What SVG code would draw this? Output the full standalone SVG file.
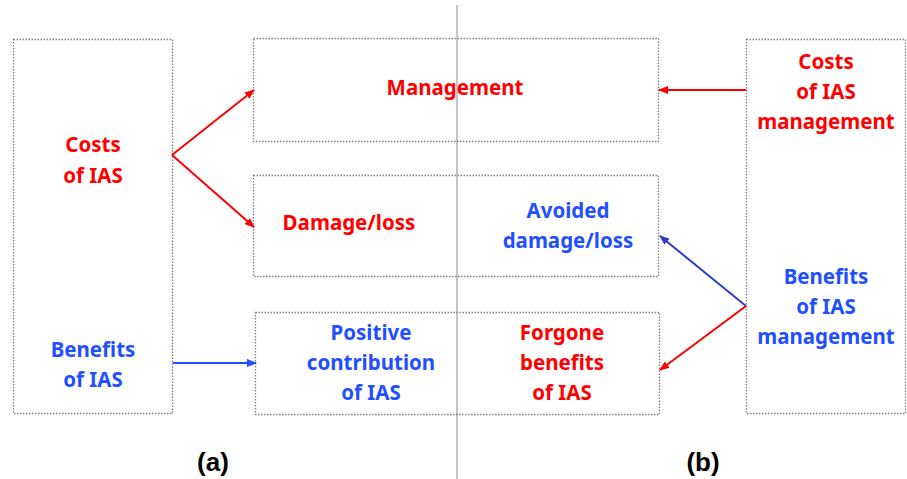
<svg xmlns="http://www.w3.org/2000/svg" width="907" height="479" viewBox="0 0 907 479">
<style>
.box{fill:none;stroke:#808080;stroke-width:1.3;stroke-dasharray:1.5 1.5}
.t{font-family:"Noto Sans","Open Sans","Liberation Sans",sans-serif;font-weight:700;font-size:20.5px;text-anchor:middle}
.r{fill:#ff0000}
.b{fill:#1f4fff}
.lab{font-family:"Liberation Sans",Arial,sans-serif;font-weight:bold;font-size:26px;text-anchor:middle;fill:#000}
</style>
<defs>
<marker id="ar" markerWidth="10" markerHeight="8" refX="9" refY="4" orient="auto" markerUnits="userSpaceOnUse"><path d="M0,0 L10,4 L0,8 Z" fill="#ff0000"/></marker>
<marker id="ab" markerWidth="10" markerHeight="8" refX="9" refY="4" orient="auto" markerUnits="userSpaceOnUse"><path d="M0,0 L10,4 L0,8 Z" fill="#1f4fff"/></marker>
<marker id="ab2" markerWidth="10" markerHeight="8" refX="9" refY="4" orient="auto" markerUnits="userSpaceOnUse"><path d="M0,0 L10,4 L0,8 Z" fill="#2b3fbf"/></marker>
</defs>
<line x1="457" y1="5" x2="457" y2="479" stroke="#a6a6a6" stroke-width="1.3"/>
<g id="left-a">
<rect class="box" x="13.5" y="39.5" width="159" height="374"/>
<text class="t r" x="93" y="152">Costs</text>
<text class="t r" x="93" y="183">of IAS</text>
<text class="t b" x="93" y="357">Benefits</text>
<text class="t b" x="93" y="387">of IAS</text>
</g>
<g id="management">
<rect class="box" x="253.5" y="38.5" width="405" height="103"/>
<text class="t r" x="455" y="95">Management</text>
</g>
<g id="damage">
<rect class="box" x="253.5" y="175.5" width="405" height="101"/>
<text class="t r" x="349" y="230">Damage/loss</text>
<text class="t b" x="568" y="218">Avoided</text>
<text class="t b" x="568" y="248">damage/loss</text>
</g>
<g id="contribution">
<rect class="box" x="255.5" y="312.5" width="404" height="102"/>
<text class="t b" x="371" y="340">Positive</text>
<text class="t b" x="371" y="370">contribution</text>
<text class="t b" x="371" y="400">of IAS</text>
<text class="t r" x="562" y="340">Forgone</text>
<text class="t r" x="562" y="370">benefits</text>
<text class="t r" x="562" y="400">of IAS</text>
</g>
<g id="right-b">
<rect class="box" x="746.5" y="39.5" width="159" height="374"/>
<text class="t r" x="826" y="69">Costs</text>
<text class="t r" x="826" y="99">of IAS</text>
<text class="t r" x="826" y="129">management</text>
<text class="t b" x="826" y="284">Benefits</text>
<text class="t b" x="826" y="314">of IAS</text>
<text class="t b" x="826" y="344">management</text>
</g>
<g id="connectors" fill="none" stroke-width="2">
<line x1="172" y1="155" x2="254" y2="90" stroke="#ff0000" marker-end="url(#ar)"/>
<line x1="172" y1="155" x2="254" y2="227" stroke="#ff0000" marker-end="url(#ar)"/>
<line x1="173" y1="363" x2="256" y2="363" stroke="#1f4fff" marker-end="url(#ab)"/>
<line x1="746" y1="90" x2="659" y2="90" stroke="#ff0000" marker-end="url(#ar)"/>
<line x1="746" y1="306" x2="660" y2="236" stroke="#2b3fbf" marker-end="url(#ab2)"/>
<line x1="746" y1="306" x2="660" y2="370" stroke="#ff0000" marker-end="url(#ar)"/>
</g>
<text class="lab" x="213" y="471">(a)</text>
<text class="lab" x="703" y="471">(b)</text>
</svg>
